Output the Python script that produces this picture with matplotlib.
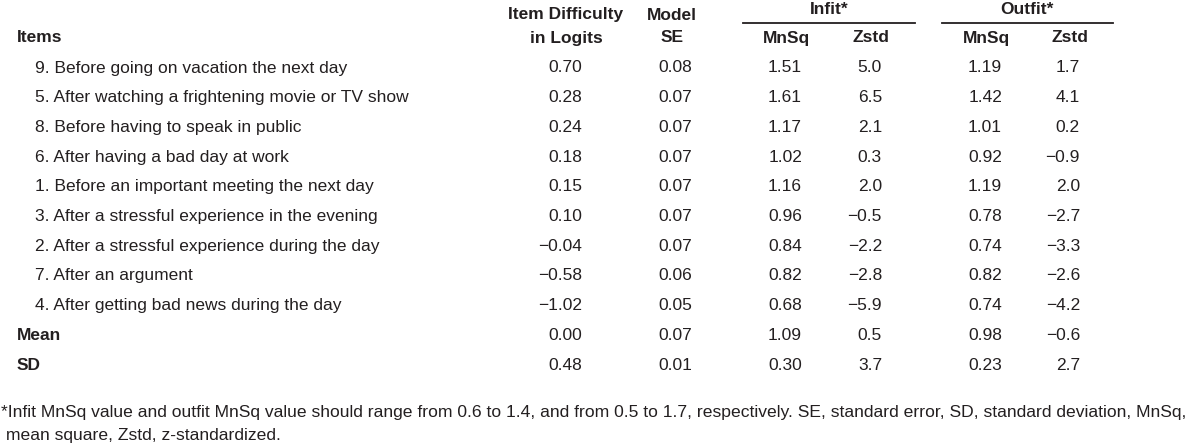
import matplotlib.pyplot as plt

plt.rcParams['font.family'] = ['Liberation Sans', 'DejaVu Sans']

items = [
    "9. Before going on vacation the next day",
    "5. After watching a frightening movie or TV show",
    "8. Before having to speak in public",
    "6. After having a bad day at work",
    "1. Before an important meeting the next day",
    "3. After a stressful experience in the evening",
    "2. After a stressful experience during the day",
    "7. After an argument",
    "4. After getting bad news during the day",
]
difficulty = [0.70, 0.28, 0.24, 0.18, 0.15, 0.10, -0.04, -0.58, -1.02]
model_se = [0.08, 0.07, 0.07, 0.07, 0.07, 0.07, 0.07, 0.06, 0.05]
infit_mnsq = [1.51, 1.61, 1.17, 1.02, 1.16, 0.96, 0.84, 0.82, 0.68]
infit_zstd = [5.0, 6.5, 2.1, 0.3, 2.0, -0.5, -2.2, -2.8, -5.9]
outfit_mnsq = [1.19, 1.42, 1.01, 0.92, 1.19, 0.78, 0.74, 0.82, 0.74]
outfit_zstd = [1.7, 4.1, 0.2, -0.9, 2.0, -2.7, -3.3, -2.6, -4.2]

summary_labels = ["Mean", "SD"]
summary_difficulty = [0.00, 0.48]
summary_se = [0.07, 0.01]
summary_infit_mnsq = [1.09, 0.30]
summary_infit_zstd = [0.5, 3.7]
summary_outfit_mnsq = [0.98, 0.23]
summary_outfit_zstd = [-0.6, 2.7]

footnote = ("*Infit MnSq value and outfit MnSq value should range from 0.6 to 1.4, and from 0.5 to 1.7, "
            "respectively. SE, standard error, SD, standard deviation, MnSq,\n mean square, Zstd, z-standardized.")

W, H = 1200, 448
fig = plt.figure(figsize=(12, 4.48), dpi=100)
INK = '#231f20'


def px(x, y):
    return x / W, 1 - y / H


def put(x, y, s, ha='center', bold=False, size=12.5):
    fig.text(*px(x, y), s, ha=ha, va='center', fontsize=size,
             fontweight='bold' if bold else 'normal', color=INK)


def fmt(v, nd):
    return f"{v:.{nd}f}".replace('-', '\u2212')


# right edges of the numeric columns, header centres
col_right = [582, 692, 802, 882, 1002, 1080]
head_x = [566, 672, 787, 871, 987, 1070]

# header
put(17, 38, "Items", ha='left', bold=True)
put(head_x[0], 15, "Item Difficulty", bold=True)
put(head_x[0], 38, "in Logits", bold=True)
put(head_x[1], 15, "Model", bold=True)
put(head_x[1], 38, "SE", bold=True)
put(829, 10, "Infit*", bold=True)
put(1027, 10, "Outfit*", bold=True)
for x0, x1 in [(743, 915), (942, 1113)]:
    fig.add_artist(plt.Line2D([x0 / W, x1 / W], [1 - 23 / H] * 2,
                              transform=fig.transFigure, color=INK, lw=1.3))
for x, lab in zip(head_x[2:], ["MnSq", "Zstd", "MnSq", "Zstd"]):
    put(x, 38, lab, bold=True)

# body rows
y0, dy = 68, 29.7
for i, name in enumerate(items):
    y = y0 + i * dy
    put(35, y, name, ha='left')
    vals = [fmt(difficulty[i], 2), fmt(model_se[i], 2), fmt(infit_mnsq[i], 2),
            fmt(infit_zstd[i], 1), fmt(outfit_mnsq[i], 2), fmt(outfit_zstd[i], 1)]
    for x, v in zip(col_right, vals):
        put(x, y, v, ha='right')

for j, lab in enumerate(summary_labels):
    y = y0 + (len(items) + j) * dy
    put(17, y, lab, ha='left', bold=True)
    vals = [fmt(summary_difficulty[j], 2), fmt(summary_se[j], 2), fmt(summary_infit_mnsq[j], 2),
            fmt(summary_infit_zstd[j], 1), fmt(summary_outfit_mnsq[j], 2), fmt(summary_outfit_zstd[j], 1)]
    for x, v in zip(col_right, vals):
        put(x, y, v, ha='right')

fig.text(*px(1, 412), footnote.split('\n')[0], ha='left', va='center', fontsize=12.6, color=INK)
fig.text(*px(1, 435), footnote.split('\n')[1], ha='left', va='center', fontsize=12.6, color=INK)

fig.savefig("out.png", dpi=100, facecolor='white')
